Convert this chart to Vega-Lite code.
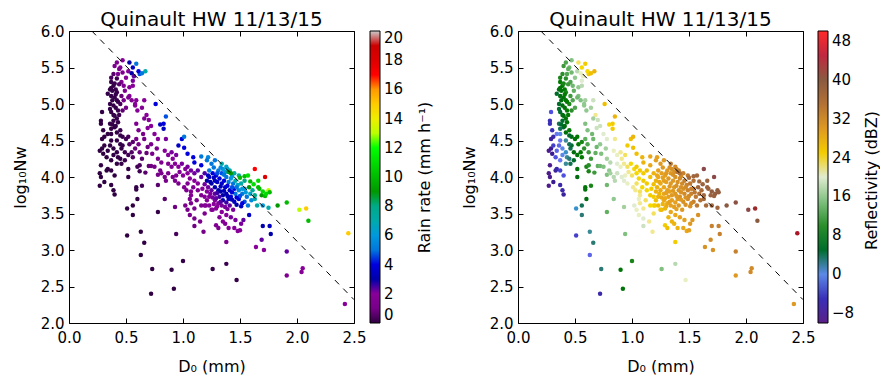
{
"$schema": "https://vega.github.io/schema/vega-lite/v6.json",
"background": "white",
"padding": {"left": 11, "top": 9, "right": 0, "bottom": 0},
"config": {
  "font": "DejaVu Sans",
  "view": {"stroke": "black", "strokeWidth": 1},
  "axis": {"grid": false, "domain": false, "tickColor": "black", "tickSize": -5, "labelPadding": 10, "labelFlush": false, "labelFontSize": 15, "labelColor": "black", "titleFontSize": 16, "titleFontWeight": "normal", "titleColor": "black", "labelFont": "DejaVu Sans", "titleFont": "DejaVu Sans"},
  "axisX": {"labelPadding": 12},
  "title": {"fontSize": 20, "fontWeight": "normal", "font": "DejaVu Sans", "color": "black", "offset": -6},
  "legend": {"labelFontSize": 15, "labelColor": "black", "labelFont": "DejaVu Sans"}
},
"datasets": {
"ref": [{"d": 0.2, "n": 6.0}, {"d": 2.5, "n": 2.32}],
"pts": [
{"d":0.47,"n":5.60,"r":2,"z":15},{"d":0.53,"n":5.57,"r":3,"z":23},{"d":0.59,"n":5.55,"r":5,"z":25},{"d":0.67,"n":5.45,"r":7,"z":27},{"d":0.62,"n":5.41,"r":4.5,"z":25},{"d":0.56,"n":5.50,"r":3.5,"z":24},{"d":0.40,"n":5.52,"r":1.5,"z":11},{"d":0.43,"n":5.41,"r":1.5,"z":12},{"d":0.50,"n":5.36,"r":2,"z":16},{"d":0.56,"n":5.32,"r":2.2,"z":20},{"d":0.59,"n":5.05,"r":2,"z":17},{"d":0.58,"n":4.98,"r":2,"z":16},{"d":0.53,"n":5.11,"r":1.8,"z":15},{"d":0.49,"n":5.18,"r":1.5,"z":13},{"d":0.46,"n":5.30,"r":1.5,"z":12},
{"d":0.45,"n":5.50,"r":1.8,"z":14},{"d":0.52,"n":5.45,"r":2,"z":18},{"d":0.55,"n":5.42,"r":3,"z":21},{"d":0.48,"n":5.25,"r":1.6,"z":14},{"d":0.57,"n":5.38,"r":2.5,"z":21},{"d":0.61,"n":5.45,"r":4,"z":24},{"d":0.64,"n":5.42,"r":5,"z":26},
{"d":0.37,"n":5.30,"r":0.15,"z":8},{"d":0.39,"n":5.25,"r":0.15,"z":8},{"d":0.40,"n":5.28,"r":0.2,"z":9},{"d":0.36,"n":5.20,"r":0.1,"z":6},{"d":0.38,"n":5.18,"r":0.1,"z":7},{"d":0.41,"n":5.20,"r":0.2,"z":8},{"d":0.42,"n":5.16,"r":0.2,"z":9},{"d":0.37,"n":5.11,"r":0.1,"z":6},{"d":0.40,"n":5.09,"r":0.15,"z":7},{"d":0.42,"n":5.05,"r":0.2,"z":8},{"d":0.36,"n":5.00,"r":0.1,"z":5},{"d":0.39,"n":4.98,"r":0.1,"z":6},{"d":0.41,"n":4.95,"r":0.15,"z":7},{"d":0.43,"n":4.91,"r":0.2,"z":8},{"d":0.37,"n":4.89,"r":0.1,"z":5},{"d":0.40,"n":4.84,"r":0.1,"z":6},{"d":0.42,"n":4.80,"r":0.15,"z":7},{"d":0.39,"n":4.77,"r":0.1,"z":5},{"d":0.43,"n":4.75,"r":0.15,"z":7},{"d":0.36,"n":4.73,"r":0.1,"z":4},{"d":0.40,"n":4.68,"r":0.1,"z":5},{"d":0.37,"n":4.66,"r":0.1,"z":4},{"d":0.42,"n":4.61,"r":0.1,"z":6},{"d":0.45,"n":4.64,"r":0.2,"z":8},{"d":0.44,"n":5.27,"r":0.6,"z":11},{"d":0.45,"n":5.00,"r":0.4,"z":9},{"d":0.34,"n":5.14,"r":0.1,"z":5},
{"d":0.38,"n":5.05,"r":0.1,"z":6},{"d":0.41,"n":5.13,"r":0.15,"z":8},{"d":0.36,"n":4.93,"r":0.1,"z":5},{"d":0.43,"n":5.03,"r":0.2,"z":8},{"d":0.38,"n":4.72,"r":0.1,"z":5},{"d":0.41,"n":4.70,"r":0.1,"z":6},{"d":0.39,"n":4.85,"r":0.1,"z":6},{"d":0.44,"n":4.85,"r":0.2,"z":8},{"d":0.37,"n":5.22,"r":0.1,"z":7},{"d":0.42,"n":5.35,"r":0.3,"z":10},
{"d":0.46,"n":5.11,"r":0.8,"z":11},{"d":0.48,"n":5.05,"r":1.1,"z":12},{"d":0.52,"n":5.09,"r":1.5,"z":14},{"d":0.55,"n":5.05,"r":1.6,"z":15},{"d":0.58,"n":5.00,"r":1.8,"z":16},{"d":0.50,"n":4.95,"r":1.0,"z":12},{"d":0.47,"n":4.91,"r":0.7,"z":10},{"d":0.60,"n":4.91,"r":1.8,"z":16},{"d":0.53,"n":5.23,"r":1.8,"z":16},{"d":0.56,"n":5.25,"r":2.0,"z":18},{"d":0.47,"n":5.43,"r":1.5,"z":14},{"d":0.44,"n":5.48,"r":1.3,"z":13},{"d":0.42,"n":5.57,"r":1.3,"z":12},{"d":0.39,"n":5.41,"r":0.6,"z":10},{"d":0.37,"n":5.36,"r":0.4,"z":9},
{"d":0.29,"n":4.89,"r":0.05,"z":-3},{"d":0.28,"n":4.77,"r":0.05,"z":-5},{"d":0.28,"n":4.73,"r":0.05,"z":-5},{"d":0.30,"n":4.64,"r":0.05,"z":-5},{"d":0.31,"n":4.55,"r":0.05,"z":-6},{"d":0.29,"n":4.52,"r":0.05,"z":-7},{"d":0.27,"n":4.36,"r":0.03,"z":-9},{"d":0.29,"n":4.39,"r":0.03,"z":-8},{"d":0.30,"n":4.32,"r":0.03,"z":-8},{"d":0.28,"n":4.16,"r":0.03,"z":-9},{"d":0.27,"n":4.05,"r":0.03,"z":-9},{"d":0.28,"n":4.00,"r":0.03,"z":-9},{"d":0.27,"n":3.88,"r":0.03,"z":-9},{"d":0.31,"n":3.93,"r":0.03,"z":-8},{"d":0.33,"n":4.09,"r":0.03,"z":-7},{"d":0.34,"n":4.11,"r":0.05,"z":-6},{"d":0.37,"n":4.09,"r":0.05,"z":-4},{"d":0.40,"n":4.02,"r":0.05,"z":-3},{"d":0.39,"n":3.82,"r":0.03,"z":-6},{"d":0.40,"n":3.76,"r":0.03,"z":-7},{"d":0.37,"n":3.89,"r":0.03,"z":-6},
{"d":0.34,"n":4.59,"r":0.05,"z":-1},{"d":0.37,"n":4.59,"r":0.05,"z":0},{"d":0.37,"n":4.50,"r":0.05,"z":-1},{"d":0.36,"n":4.43,"r":0.05,"z":-2},{"d":0.39,"n":4.39,"r":0.05,"z":0},{"d":0.42,"n":4.34,"r":0.1,"z":1},{"d":0.43,"n":4.27,"r":0.1,"z":2},{"d":0.45,"n":4.25,"r":0.1,"z":3},{"d":0.46,"n":4.39,"r":0.1,"z":4},{"d":0.47,"n":4.43,"r":0.15,"z":5},{"d":0.49,"n":4.34,"r":0.2,"z":6},{"d":0.52,"n":4.30,"r":0.3,"z":7},{"d":0.52,"n":4.55,"r":0.4,"z":8},{"d":0.56,"n":4.48,"r":0.6,"z":9},{"d":0.55,"n":4.34,"r":0.5,"z":8},{"d":0.50,"n":4.52,"r":0.3,"z":7},{"d":0.53,"n":4.45,"r":0.6,"z":8},{"d":0.58,"n":4.39,"r":0.8,"z":10},{"d":0.61,"n":4.45,"r":1.2,"z":12},{"d":0.62,"n":4.34,"r":0.9,"z":11},{"d":0.56,"n":4.27,"r":0.5,"z":8},{"d":0.49,"n":4.23,"r":0.2,"z":5},{"d":0.46,"n":4.18,"r":0.1,"z":4},{"d":0.42,"n":4.18,"r":0.1,"z":2},{"d":0.37,"n":4.23,"r":0.05,"z":-1},{"d":0.39,"n":4.30,"r":0.05,"z":0},{"d":0.33,"n":4.27,"r":0.03,"z":-3},{"d":0.34,"n":4.36,"r":0.03,"z":-2},{"d":0.31,"n":4.43,"r":0.03,"z":-4},{"d":0.42,"n":4.50,"r":0.1,"z":2},{"d":0.45,"n":4.45,"r":0.1,"z":4},{"d":0.47,"n":4.55,"r":0.2,"z":6},{"d":0.45,"n":4.57,"r":0.15,"z":5},
{"d":0.52,"n":4.11,"r":0.1,"z":7},{"d":0.52,"n":4.00,"r":0.1,"z":6},{"d":0.60,"n":4.14,"r":0.3,"z":9},{"d":0.62,"n":4.16,"r":0.4,"z":10},{"d":0.62,"n":4.08,"r":0.3,"z":9},{"d":0.67,"n":4.06,"r":0.6,"z":11},{"d":0.70,"n":4.15,"r":0.8,"z":13},{"d":0.72,"n":4.15,"r":0.9,"z":14},{"d":0.75,"n":4.14,"r":1.0,"z":15},{"d":0.80,"n":4.09,"r":1.1,"z":16},{"d":0.78,"n":4.03,"r":1.0,"z":15},{"d":0.64,"n":4.25,"r":0.6,"z":11},{"d":0.68,"n":4.33,"r":0.8,"z":13},{"d":0.69,"n":4.41,"r":0.9,"z":14},{"d":0.66,"n":4.52,"r":1.0,"z":14},{"d":0.65,"n":4.59,"r":1.0,"z":14},{"d":0.72,"n":4.45,"r":1.2,"z":16},{"d":0.73,"n":4.32,"r":1.1,"z":15},{"d":0.77,"n":4.39,"r":1.4,"z":17},{"d":0.78,"n":4.25,"r":1.3,"z":17},{"d":0.81,"n":4.20,"r":1.4,"z":18},
{"d":0.78,"n":3.52,"r":0.1,"z":13},{"d":0.78,"n":3.89,"r":0.6,"z":14},{"d":0.64,"n":3.88,"r":0.3,"z":9},{"d":0.59,"n":3.86,"r":0.1,"z":7},{"d":0.59,"n":3.83,"r":0.1,"z":7},{"d":0.60,"n":3.70,"r":0.05,"z":6},{"d":0.56,"n":3.61,"r":0.05,"z":4},{"d":0.51,"n":3.57,"r":0.05,"z":1},{"d":0.56,"n":3.48,"r":0.05,"z":3},{"d":0.51,"n":3.20,"r":0.03,"z":-4},{"d":0.63,"n":3.25,"r":0.05,"z":2},{"d":0.66,"n":3.10,"r":0.05,"z":3},{"d":0.63,"n":2.93,"r":0.03,"z":-2},{"d":0.73,"n":2.74,"r":0.03,"z":3},{"d":0.72,"n":2.40,"r":0.02,"z":-6},{"d":0.90,"n":2.73,"r":0.05,"z":7},{"d":0.92,"n":2.47,"r":0.03,"z":7},{"d":1.00,"n":2.85,"r":0.1,"z":9},{"d":1.26,"n":2.74,"r":0.1,"z":15},{"d":1.38,"n":2.81,"r":0.2,"z":18},{"d":1.47,"n":2.59,"r":0.1,"z":21},{"d":0.94,"n":3.22,"r":0.4,"z":15},{"d":0.84,"n":3.70,"r":0.6,"z":16},
{"d":1.02,"n":3.61,"r":1.2,"z":20},{"d":1.10,"n":3.57,"r":1.4,"z":22},{"d":1.06,"n":3.70,"r":1.5,"z":21},{"d":1.07,"n":3.75,"r":1.6,"z":22},{"d":0.93,"n":3.59,"r":0.9,"z":17},{"d":1.19,"n":3.61,"r":1.8,"z":24},{"d":1.19,"n":3.50,"r":1.5,"z":23},{"d":1.10,"n":3.43,"r":1.1,"z":20},{"d":1.10,"n":3.33,"r":0.9,"z":19},{"d":1.18,"n":3.25,"r":1.0,"z":22},{"d":1.26,"n":3.55,"r":2.0,"z":27},{"d":1.29,"n":3.34,"r":1.5,"z":25},{"d":1.32,"n":3.45,"r":2.0,"z":27},{"d":1.35,"n":3.39,"r":2.0,"z":27},{"d":1.38,"n":3.11,"r":1.3,"z":25},{"d":1.40,"n":3.30,"r":2.0,"z":27},{"d":1.45,"n":3.30,"r":2.0,"z":28},{"d":1.48,"n":3.26,"r":2.0,"z":28},{"d":1.50,"n":3.27,"r":2.0,"z":29},{"d":1.53,"n":3.41,"r":2.5,"z":30},{"d":1.51,"n":3.60,"r":3.5,"z":31},{"d":1.58,"n":3.48,"r":3.5,"z":31},{"d":1.70,"n":3.33,"r":3.0,"z":33},{"d":1.76,"n":3.33,"r":3.5,"z":33},{"d":1.77,"n":3.22,"r":3.0,"z":33},{"d":1.69,"n":3.14,"r":2.5,"z":32},{"d":1.64,"n":3.04,"r":2.0,"z":31},{"d":1.71,"n":3.00,"r":2.0,"z":31},{"d":1.91,"n":2.98,"r":2.5,"z":33},{"d":1.91,"n":2.65,"r":1.5,"z":30},{"d":2.05,"n":2.75,"r":2.0,"z":32},{"d":2.04,"n":2.70,"r":1.8,"z":32},{"d":2.42,"n":2.26,"r":2.0,"z":30},
{"d":0.76,"n":5.00,"r":4,"z":26},{"d":0.68,"n":4.85,"r":2,"z":22},{"d":0.85,"n":4.83,"r":4.5,"z":27},{"d":0.80,"n":4.72,"r":3.5,"z":24},{"d":0.83,"n":4.73,"r":4,"z":25},{"d":0.83,"n":4.66,"r":3.5,"z":25},{"d":0.69,"n":4.67,"r":2,"z":19},{"d":0.59,"n":4.73,"r":1.5,"z":15},{"d":0.61,"n":4.64,"r":1.3,"z":15},{"d":0.59,"n":4.52,"r":1.1,"z":13},{"d":0.75,"n":4.59,"r":2,"z":20},{"d":0.78,"n":4.52,"r":2,"z":20},{"d":0.85,"n":4.52,"r":2.2,"z":22},{"d":0.99,"n":4.52,"r":4,"z":26},{"d":1.01,"n":4.55,"r":5,"z":27},{"d":0.96,"n":4.43,"r":3.5,"z":25},{"d":1.01,"n":4.40,"r":4,"z":26},{"d":1.04,"n":4.32,"r":4,"z":26},{"d":1.09,"n":4.27,"r":4,"z":27},{"d":1.16,"n":4.28,"r":5,"z":28},{"d":1.22,"n":4.27,"r":5.5,"z":29},{"d":1.21,"n":4.23,"r":5,"z":29},{"d":1.10,"n":4.20,"r":4,"z":27},{"d":1.16,"n":4.16,"r":4,"z":28},
{"d":0.70,"n":4.78,"r":1.8,"z":19},{"d":0.72,"n":4.70,"r":1.8,"z":19},{"d":0.66,"n":4.80,"r":1.5,"z":17},{"d":0.64,"n":4.95,"r":1.7,"z":17},{"d":0.66,"n":5.05,"r":2.0,"z":19},
{"d":0.84,"n":4.36,"r":2,"z":21},{"d":0.87,"n":4.30,"r":2,"z":21},{"d":0.90,"n":4.34,"r":2.2,"z":22},{"d":0.91,"n":4.25,"r":2,"z":22},{"d":0.94,"n":4.30,"r":2.2,"z":23},{"d":0.87,"n":4.18,"r":1.6,"z":20},{"d":0.90,"n":4.14,"r":1.6,"z":21},{"d":0.93,"n":4.18,"r":1.8,"z":22},{"d":0.96,"n":4.14,"r":2,"z":23},{"d":0.99,"n":4.18,"r":2.2,"z":24},{"d":1.02,"n":4.11,"r":2,"z":24},{"d":1.04,"n":4.14,"r":2.2,"z":25},{"d":0.97,"n":4.07,"r":1.8,"z":22},{"d":0.94,"n":4.02,"r":1.5,"z":21},{"d":0.91,"n":4.00,"r":1.4,"z":20},{"d":0.84,"n":4.00,"r":1.1,"z":18},{"d":0.87,"n":4.05,"r":1.3,"z":19},{"d":1.00,"n":4.02,"r":1.8,"z":23},{"d":1.04,"n":4.05,"r":2,"z":24},{"d":1.07,"n":4.09,"r":2.3,"z":25},{"d":1.10,"n":4.05,"r":2.3,"z":25},{"d":1.13,"n":4.09,"r":2.5,"z":26},{"d":1.06,"n":3.98,"r":1.9,"z":24},{"d":1.10,"n":3.95,"r":2,"z":25},{"d":1.16,"n":4.00,"r":2.4,"z":26},{"d":1.19,"n":4.05,"r":2.7,"z":27},{"d":1.13,"n":3.91,"r":2,"z":25},{"d":1.09,"n":3.86,"r":1.7,"z":24},{"d":1.04,"n":3.91,"r":1.6,"z":23},{"d":1.01,"n":3.86,"r":1.5,"z":22},{"d":0.93,"n":3.95,"r":1.3,"z":20},{"d":0.96,"n":3.91,"r":1.3,"z":21},{"d":0.85,"n":3.95,"r":1.0,"z":18},{"d":0.81,"n":4.05,"r":1.2,"z":17},{"d":1.03,"n":3.82,"r":1.4,"z":22},{"d":1.07,"n":3.80,"r":1.6,"z":23},{"d":1.12,"n":3.68,"r":1.5,"z":23},{"d":1.19,"n":3.73,"r":2,"z":25},{"d":1.20,"n":3.61,"r":1.8,"z":25},
{"d":1.21,"n":3.95,"r":3,"z":27},{"d":1.23,"n":4.00,"r":3.5,"z":28},{"d":1.25,"n":3.91,"r":3,"z":28},{"d":1.28,"n":3.95,"r":3.5,"z":29},{"d":1.29,"n":4.02,"r":4,"z":29},{"d":1.31,"n":4.09,"r":5,"z":30},{"d":1.34,"n":4.05,"r":4.5,"z":30},{"d":1.35,"n":4.11,"r":6,"z":31},{"d":1.37,"n":4.07,"r":6,"z":31},{"d":1.38,"n":4.00,"r":5,"z":31},{"d":1.32,"n":3.98,"r":4,"z":30},{"d":1.26,"n":4.05,"r":4,"z":29},{"d":1.23,"n":4.09,"r":5,"z":29},{"d":1.28,"n":3.86,"r":3,"z":28},{"d":1.31,"n":3.82,"r":3,"z":29},{"d":1.34,"n":3.91,"r":3.5,"z":30},{"d":1.37,"n":3.86,"r":3.5,"z":30},{"d":1.40,"n":3.93,"r":5,"z":31},{"d":1.42,"n":3.98,"r":6,"z":32},{"d":1.44,"n":3.91,"r":5,"z":32},{"d":1.45,"n":3.84,"r":4,"z":31},{"d":1.41,"n":3.82,"r":3.5,"z":31},{"d":1.38,"n":3.77,"r":3.2,"z":30},{"d":1.35,"n":3.75,"r":3,"z":30},{"d":1.32,"n":3.73,"r":2.8,"z":29},{"d":1.28,"n":3.77,"r":2.5,"z":28},{"d":1.25,"n":3.82,"r":2.5,"z":28},{"d":1.22,"n":3.86,"r":2.3,"z":27},{"d":1.21,"n":3.80,"r":2,"z":27},{"d":1.23,"n":3.73,"r":2,"z":27},{"d":1.28,"n":3.68,"r":2,"z":28},{"d":1.31,"n":3.64,"r":2,"z":28},{"d":1.35,"n":3.68,"r":3,"z":29},{"d":1.40,"n":3.70,"r":3.5,"z":30},{"d":1.42,"n":3.73,"r":3.8,"z":31},{"d":1.46,"n":3.77,"r":5,"z":32},{"d":1.49,"n":3.82,"r":5.5,"z":33},{"d":1.48,"n":3.89,"r":6.5,"z":33},{"d":1.46,"n":3.95,"r":7,"z":33},{"d":1.51,"n":3.91,"r":7,"z":34},{"d":1.54,"n":3.84,"r":6,"z":34},{"d":1.52,"n":3.77,"r":5,"z":33},{"d":1.49,"n":3.70,"r":4,"z":32},{"d":1.45,"n":3.66,"r":3.5,"z":31},{"d":1.41,"n":3.61,"r":2.5,"z":30},{"d":1.37,"n":3.59,"r":2.2,"z":29},{"d":1.34,"n":3.61,"r":2.2,"z":29},{"d":1.44,"n":3.55,"r":2.2,"z":30},{"d":1.56,"n":3.73,"r":5,"z":34},{"d":1.59,"n":3.77,"r":6.5,"z":35},{"d":1.60,"n":3.68,"r":5.5,"z":35},{"d":1.63,"n":3.70,"r":7,"z":36},{"d":1.54,"n":3.66,"r":4.5,"z":33},{"d":1.57,"n":3.61,"r":5,"z":34},{"d":1.61,"n":3.82,"r":7.5,"z":36},{"d":1.54,"n":3.95,"r":8,"z":35},{"d":1.49,"n":4.02,"r":7.5,"z":34},{"d":1.45,"n":4.05,"r":7,"z":33},{"d":1.41,"n":4.09,"r":7,"z":33},{"d":1.38,"n":4.14,"r":6.5,"z":32},{"d":1.25,"n":4.18,"r":5,"z":30},{"d":1.28,"n":4.23,"r":5,"z":30},
{"d":1.24,"n":3.93,"r":3,"z":28},{"d":1.27,"n":3.99,"r":3.5,"z":29},{"d":1.30,"n":3.93,"r":3.5,"z":29},{"d":1.33,"n":3.87,"r":3.5,"z":30},{"d":1.36,"n":3.95,"r":4,"z":30},{"d":1.39,"n":3.88,"r":4,"z":31},{"d":1.43,"n":3.86,"r":4.5,"z":31},{"d":1.30,"n":3.78,"r":2.8,"z":29},{"d":1.33,"n":3.80,"r":3,"z":29},{"d":1.36,"n":3.81,"r":3.2,"z":30},{"d":1.39,"n":3.74,"r":3.2,"z":30},{"d":1.43,"n":3.79,"r":4,"z":31},{"d":1.47,"n":3.86,"r":5,"z":32},{"d":1.50,"n":3.74,"r":4.5,"z":32},{"d":1.26,"n":3.72,"r":2.3,"z":28},{"d":1.29,"n":3.71,"r":2.5,"z":28},{"d":1.33,"n":3.66,"r":2.6,"z":29},{"d":1.38,"n":3.65,"r":2.8,"z":29},{"d":1.43,"n":3.69,"r":3.3,"z":30},{"d":1.47,"n":3.72,"r":4,"z":31},{"d":1.30,"n":4.05,"r":4.5,"z":30},{"d":1.33,"n":4.13,"r":5.5,"z":31},{"d":1.36,"n":4.03,"r":5,"z":31},{"d":1.39,"n":4.11,"r":6.5,"z":32},{"d":1.43,"n":4.01,"r":6,"z":32},{"d":1.27,"n":4.13,"r":5,"z":30},{"d":1.22,"n":4.02,"r":3.5,"z":28},{"d":1.19,"n":3.90,"r":2.3,"z":26},{"d":1.17,"n":3.84,"r":2,"z":25},{"d":1.24,"n":3.77,"r":2.2,"z":27},{"d":1.52,"n":3.84,"r":6,"z":33},{"d":1.55,"n":3.79,"r":6,"z":34},{"d":1.47,"n":3.62,"r":3,"z":31},{"d":1.52,"n":3.64,"r":4,"z":32},{"d":1.39,"n":3.56,"r":2.2,"z":29},{"d":1.30,"n":3.60,"r":2,"z":28},{"d":1.27,"n":3.63,"r":2,"z":27},
{"d":1.13,"n":3.82,"r":1.6,"z":24},{"d":1.16,"n":3.75,"r":1.6,"z":25},{"d":1.21,"n":3.68,"r":1.8,"z":26},{"d":1.23,"n":3.61,"r":1.8,"z":26},{"d":1.25,"n":3.55,"r":1.7,"z":26},{"d":1.29,"n":3.57,"r":2,"z":27},{"d":1.34,"n":3.52,"r":2,"z":28},{"d":1.38,"n":3.48,"r":2,"z":28},{"d":1.42,"n":3.45,"r":2.2,"z":29},{"d":1.46,"n":3.41,"r":2.2,"z":29},{"d":1.51,"n":3.36,"r":2.2,"z":30},{"d":1.37,"n":3.36,"r":1.7,"z":27},{"d":1.31,"n":3.30,"r":1.4,"z":26},{"d":1.16,"n":3.61,"r":1.4,"z":24},{"d":1.07,"n":3.64,"r":1.3,"z":22},{"d":1.04,"n":3.55,"r":1.1,"z":21},{"d":1.06,"n":3.48,"r":1.1,"z":21},{"d":1.15,"n":3.39,"r":1.2,"z":22},
{"d":1.34,"n":4.18,"r":7,"z":34},{"d":1.40,"n":4.07,"r":9,"z":35},{"d":1.42,"n":4.05,"r":9,"z":35},{"d":1.50,"n":3.99,"r":10,"z":36},{"d":1.54,"n":4.01,"r":10,"z":37},{"d":1.57,"n":4.02,"r":11,"z":37},{"d":1.63,"n":4.11,"r":17,"z":42},{"d":1.72,"n":4.00,"r":18,"z":42},{"d":1.66,"n":3.86,"r":10,"z":38},{"d":1.67,"n":3.84,"r":10,"z":38},{"d":1.75,"n":3.82,"r":13,"z":39},{"d":1.76,"n":3.79,"r":10,"z":39},{"d":1.59,"n":3.94,"r":10,"z":37},{"d":1.63,"n":3.75,"r":8,"z":37},{"d":1.69,"n":3.75,"r":9,"z":38},{"d":1.72,"n":3.74,"r":10,"z":38},{"d":1.65,"n":3.61,"r":7,"z":36},{"d":1.70,"n":3.61,"r":6,"z":37},{"d":1.75,"n":3.58,"r":7,"z":37},{"d":1.83,"n":3.61,"r":9,"z":40},{"d":1.91,"n":3.65,"r":10,"z":41},{"d":2.02,"n":3.55,"r":13,"z":42},{"d":2.08,"n":3.57,"r":15,"z":43},{"d":2.10,"n":3.40,"r":10,"z":40},{"d":2.45,"n":3.23,"r":15,"z":44},
{"d":1.62,"n":3.90,"r":11,"z":38},{"d":1.70,"n":3.80,"r":11,"z":39},{"d":1.73,"n":3.77,"r":11,"z":39},{"d":1.66,"n":3.95,"r":11,"z":38},{"d":1.58,"n":3.86,"r":9,"z":37}
]
},
"spacing": 27,
"resolve": {"scale": {"color": "independent"}, "legend": {"color": "independent"}},
"hconcat": [
{
  "title": "Quinault HW 11/13/15",
  "width": 285, "height": 292,
  "layer": [
    {"data": {"name": "pts"}, "mark": {"type": "circle", "size": 20, "opacity": 1},
     "encoding": {
       "x": {"field": "d", "type": "quantitative", "scale": {"domain": [0, 2.5], "nice": false}, "axis": {"values": [0, 0.5, 1, 1.5, 2, 2.5], "format": ".1f", "title": "D₀ (mm)", "titlePadding": 13}},
       "y": {"field": "n", "type": "quantitative", "scale": {"domain": [2, 6], "nice": false, "zero": false}, "axis": {"values": [2, 2.5, 3, 3.5, 4, 4.5, 5, 5.5, 6], "format": ".1f", "title": "log₁₀Nw", "titlePadding": 12}},
       "color": {"field": "r", "type": "quantitative",
         "scale": {"domain": [0,1,2,3,4,5,6,7,8,9,10,11,12,13,14,15,16,17,18,19,20], "range": ["#000000","#770088","#880099","#0000aa","#0000dd","#0077dd","#0099dd","#00aaaa","#00aa88","#009900","#00bb00","#00dd00","#00ff00","#bbff00","#eeee00","#ffcc00","#ff9900","#ff0000","#dd0000","#cc0000","#cccccc"], "clamp": true},
         "legend": {"title": null, "direction": "vertical", "orient": "none", "legendX": 301, "legendY": 0, "gradientLength": 292, "gradientThickness": 10, "values": [0,2,4,6,8,10,12,14,16,18,20], "gradientStrokeColor": "black", "gradientStrokeWidth": 1, "labelOffset": 4}}
     }},
    {"data": {"name": "ref"}, "mark": {"type": "line", "color": "black", "strokeDash": [6, 6], "strokeWidth": 1},
     "encoding": {
       "x": {"field": "d", "type": "quantitative", "scale": {"domain": [0, 2.5], "nice": false}, "axis": {"orient": "top", "labels": false, "title": null, "values": [0, 0.5, 1, 1.5, 2, 2.5]}},
       "y": {"field": "n", "type": "quantitative", "scale": {"domain": [2, 6], "nice": false, "zero": false}, "axis": {"orient": "right", "labels": false, "values": [2, 2.5, 3, 3.5, 4, 4.5, 5, 5.5, 6], "title": "Rain rate (mm h⁻¹)", "titleAngle": 270, "titleX": 70, "titleY": 146, "titleAlign": "center", "titleBaseline": "middle"}}
     }}
  ],
  "resolve": {"axis": {"x": "independent", "y": "independent"}}
},
{
  "title": "Quinault HW 11/13/15",
  "width": 285, "height": 292,
  "layer": [
    {"data": {"name": "pts"}, "mark": {"type": "circle", "size": 20, "opacity": 1},
     "encoding": {
       "x": {"field": "d", "type": "quantitative", "scale": {"domain": [0, 2.5], "nice": false}, "axis": {"values": [0, 0.5, 1, 1.5, 2, 2.5], "format": ".1f", "title": "D₀ (mm)", "titlePadding": 13}},
       "y": {"field": "n", "type": "quantitative", "scale": {"domain": [2, 6], "nice": false, "zero": false}, "axis": {"values": [2, 2.5, 3, 3.5, 4, 4.5, 5, 5.5, 6], "format": ".1f", "title": "log₁₀Nw", "titlePadding": 12}},
       "color": {"field": "z", "type": "quantitative",
         "scale": {"domain": [-10,-8,-5,-3,-1,0.5,2,3.5,5.5,8,10,13,16,18.5,20.5,22,24,26,28,32,36,40,42,43.5,45,48,50], "range": ["#5a2088","#3a1a90","#3a30b8","#5050e0","#6a78f0","#5a90e0","#3a8a98","#2a7060","#006a10","#007a00","#2a8e2a","#60b060","#90c890","#c0dcb8","#eaf0d8","#f2e890","#f5d800","#f0c000","#eaa818","#d08a28","#a86a38","#8a5a40","#8a4848","#a00a18","#c02840","#e03050","#ff2a2a"], "clamp": true},
         "legend": {"title": null, "direction": "vertical", "orient": "none", "legendX": 300, "legendY": 0, "gradientLength": 292, "gradientThickness": 10, "values": [-8,0,8,16,24,32,40,48], "gradientStrokeColor": "black", "gradientStrokeWidth": 1, "labelOffset": 4}}
     }},
    {"data": {"name": "ref"}, "mark": {"type": "line", "color": "black", "strokeDash": [6, 6], "strokeWidth": 1},
     "encoding": {
       "x": {"field": "d", "type": "quantitative", "scale": {"domain": [0, 2.5], "nice": false}, "axis": {"orient": "top", "labels": false, "title": null, "values": [0, 0.5, 1, 1.5, 2, 2.5]}},
       "y": {"field": "n", "type": "quantitative", "scale": {"domain": [2, 6], "nice": false, "zero": false}, "axis": {"orient": "right", "labels": false, "values": [2, 2.5, 3, 3.5, 4, 4.5, 5, 5.5, 6], "title": "Reflectivity (dBZ)", "titleAngle": 270, "titleX": 68, "titleY": 149, "titleAlign": "center", "titleBaseline": "middle"}}
     }}
  ],
  "resolve": {"axis": {"x": "independent", "y": "independent"}}
}
]
}
